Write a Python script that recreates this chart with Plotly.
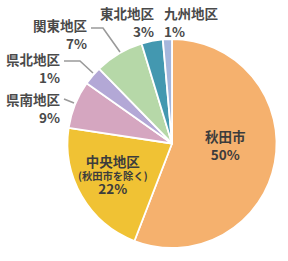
import plotly.graph_objects as go

# Data
regions = ["秋田市", "中央地区", "県南地区", "県北地区", "関東地区", "東北地区", "九州地区"]
sub_notes = ["", "(秋田市を除く)", "", "", "", "", ""]
pct_labels = ["50%", "22%", "9%", "1%", "7%", "3%", "1%"]
# slice sizes as drawn in the picture
shares = [55.8, 21.5, 7.4, 2.9, 7.6, 3.3, 1.4]
colors = ["#F5B16E", "#F0C234", "#D5A6C0", "#B3A8D6", "#B6D8A8", "#4398B0", "#A5B6DC"]

W, H = 288, 261
def px(x):
    return x / W
def py(y):
    return 1 - y / H

fig = go.Figure(go.Pie(
    values=shares,
    labels=regions,
    marker=dict(colors=colors, line=dict(color="white", width=1.8)),
    sort=False,
    direction="clockwise",
    rotation=0,
    textinfo="none",
    hoverinfo="none",
    domain=dict(x=[px(67.5), px(276.5)], y=[py(248), py(39)]),
    showlegend=False,
))

FONT = "Noto Sans CJK JP"
TXT = "#3c3c3c"
ann = []

# inside labels
ann.append(dict(x=px(225), y=py(145), text=f"<b>{regions[0]}</b><br><b>{pct_labels[0]}</b>",
                font=dict(size=13.5, color=TXT, family=FONT), showarrow=False,
                xanchor="center", yanchor="middle", align="center"))
ann.append(dict(x=px(113), y=py(174),
                text=(f"<span style='font-size:13.5px'><b>{regions[1]}</b></span><br>"
                      f"<b>{sub_notes[1]}</b><br>"
                      f"<span style='font-size:13.5px'><b>{pct_labels[1]}</b></span>"),
                font=dict(size=10.3, color=TXT, family=FONT), showarrow=False,
                xanchor="center", yanchor="middle", align="center"))

# outside labels: (index, x, y_center_of_block, xanchor)
outside = [
    (4, 89, 34, "right"),
    (3, 62, 68, "right"),
    (2, 62, 108, "right"),
    (5, 156, 22, "right"),
    (6, 162, 22, "left"),
]
for i, x, y, xa in outside:
    ann.append(dict(x=px(x), y=py(y), text=f"<b>{regions[i]}</b><br><b>{pct_labels[i]}</b>",
                    font=dict(size=13.5, color="#4a4a4a", family=FONT), showarrow=False,
                    xanchor=xa, yanchor="middle", align=xa))

# leader lines
LC = "#9a9a9a"
leaders = [
    [(91, 28), (103, 28), (120, 52)],
    [(64, 61), (80, 61), (93, 73)],
    [(64, 99), (74, 103)],
]
shapes = []
for pts in leaders:
    path = "M " + " L ".join(f"{px(a)},{py(b)}" for a, b in pts)
    shapes.append(dict(type="path", xref="paper", yref="paper", path=path,
                       line=dict(color=LC, width=1.6)))

fig.update_layout(
    width=W, height=H,
    margin=dict(l=0, r=0, t=0, b=0),
    paper_bgcolor="white", plot_bgcolor="white",
    annotations=ann, shapes=shapes,
)
fig.write_html("out.html")
